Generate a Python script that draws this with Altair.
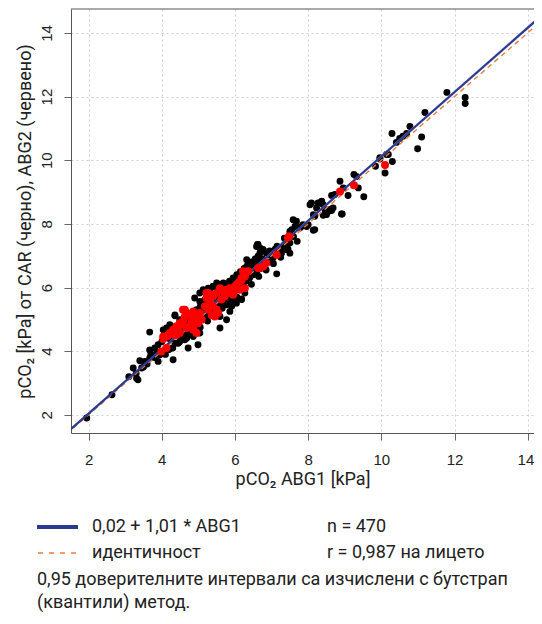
import altair as alt
import pandas as pd

# ---- data ----
car_x = [11.79, 12.29, 12.29, 11.19, 10.78, 10.29, 11.1, 10.99, 10.69, 10.59, 10.5, 10.41, 9.96, 10.19, 10.3, 9.84, 10.1,
         9.25, 9.32, 9.37, 9.52, 8.87, 8.96, 9.09, 8.64, 8.73, 8.93, 8.05, 8.09, 8.27, 8.37, 8.41, 8.46, 8.55, 8.64, 8.5,
         8.41, 8.14, 8.18, 7.86, 7.77, 7.96, 8.14, 7.59, 7.68, 7.64, 7.55, 7.5, 8.0, 8.18, 8.23, 8.32, 8.59, 8.68, 8.91,
         9.96, 10.14, 7.5, 7.36, 7.32, 7.41, 7.27, 6.63, 6.68, 6.77, 6.86, 6.95, 7.04, 7.14, 6.32, 6.41, 6.5, 6.45, 6.36,
         5.4, 5.5, 5.31, 5.95, 6.04, 6.13, 6.27, 1.95, 2.64, 3.22, 3.45, 3.31, 3.35, 3.54, 3.67, 3.9, 3.95, 3.67, 3.81,
         3.86, 4.31, 4.36, 4.72, 4.99, 3.67, 4.36, 4.22, 4.31, 4.49, 4.63, 4.77, 4.04, 4.36, 4.49, 4.9, 5.04, 5.18, 5.59,
         5.86, 5.91, 5.77, 6.18, 6.04, 5.95, 6.32, 6.41, 6.32, 6.5, 6.59, 6.68, 6.59, 5.04, 4.86, 4.68, 5.59, 5.77, 5.04,
         5.13, 5.27, 5.4, 5.54, 5.68, 5.86, 6.0, 4.13, 4.31, 6.18, 6.61, 6.77, 7.5, 7.41, 6.63,
         4.5, 4.55, 4.6, 4.65, 4.7, 4.75, 4.8, 4.85, 4.9, 4.95, 5.0, 5.05, 5.1, 5.15, 5.2, 5.25, 5.3, 5.35, 5.4, 5.45,
         5.5, 5.55, 5.6, 5.65, 5.7, 5.75, 5.8, 5.85, 5.9, 5.95, 6.0, 6.05, 6.1, 6.15, 6.2, 6.25, 6.3, 6.35, 6.4, 6.45,
         6.5, 6.55, 6.6, 6.7, 6.8, 6.9, 7.0, 7.1, 7.2, 3.9, 4.0, 4.1, 4.2, 4.3, 4.4, 3.8, 3.7, 3.6, 3.5, 3.4, 3.3, 3.1,
         4.2, 4.25, 4.45, 4.55, 4.65, 4.75, 4.85, 4.95, 5.05, 5.15, 5.25, 5.35, 5.45, 5.55, 5.65, 5.75, 5.85, 5.95,
         6.05, 6.15, 6.25, 6.35, 6.45, 6.55, 6.65, 6.75, 6.85, 6.95, 7.05, 7.15, 7.25, 7.35, 7.45, 7.6, 7.7, 7.8,
         5.0, 5.2, 5.6, 5.8, 6.0, 6.2, 6.4, 6.6, 4.8, 4.6, 5.3, 5.5, 5.7, 5.9]
car_y = [12.13, 11.97, 11.78, 11.5, 11.06, 10.84, 10.73, 10.36, 10.84, 10.75, 10.68, 10.56, 10.04, 10.18, 9.96, 9.81, 9.6,
         9.55, 9.49, 9.13, 8.85, 9.34, 9.13, 8.89, 8.89, 8.92, 8.31, 8.6, 8.66, 8.66, 8.71, 8.6, 8.45, 8.39, 8.42, 8.29,
         8.27, 8.29, 8.24, 7.97, 7.87, 7.92, 7.8, 8.13, 8.08, 7.92, 7.82, 7.76, 7.97, 7.82, 8.5, 8.66, 8.45, 8.5, 8.31,
         10.08, 10.18, 7.4, 7.35, 7.24, 7.19, 7.08, 7.35, 7.24, 7.19, 7.08, 7.03, 6.93, 6.43, 6.87, 6.77, 6.66, 6.56, 6.66,
         6.03, 6.14, 5.93, 6.14, 6.24, 6.35, 5.83, 1.9, 2.63, 3.47, 3.47, 3.15, 3.1, 3.68, 3.78, 3.68, 3.89, 4.04, 4.1,
         3.94, 3.73, 4.25, 4.1, 4.2, 4.6, 5.11, 4.83, 4.57, 4.3, 4.36, 4.52, 4.67, 5.14, 4.99, 5.67, 5.56, 5.62, 5.09,
         5.25, 5.41, 5.46, 5.62, 5.51, 5.62, 6.3, 6.46, 6.66, 6.77, 6.87, 7.08, 7.29, 4.57, 4.46, 4.41, 4.73, 4.99, 5.83,
         5.93, 5.98, 6.03, 6.09, 6.14, 5.93, 5.98, 4.73, 4.76, 5.64, 7.35, 7.19, 7.08, 7.29, 6.98,
         4.4, 4.7, 4.5, 4.9, 4.6, 5.0, 4.7, 5.2, 4.8, 5.3, 4.9, 5.4, 5.0, 5.5, 5.1, 5.6, 5.2, 5.7, 5.3, 5.8,
         5.4, 5.9, 5.5, 6.0, 5.6, 6.1, 5.7, 6.2, 5.8, 6.3, 5.9, 6.4, 6.0, 6.5, 6.1, 6.6, 6.2, 6.7, 6.3, 6.8,
         6.4, 6.9, 6.5, 6.6, 6.7, 6.8, 7.0, 7.2, 7.1, 4.2, 4.3, 3.9, 4.4, 4.1, 4.6, 3.8, 3.9, 3.6, 3.5, 3.7, 3.3, 3.2,
         4.05, 4.5, 4.25, 4.95, 4.45, 4.85, 4.55, 5.1, 4.75, 5.25, 4.95, 5.45, 5.15, 5.65, 5.35, 5.85, 5.5, 6.05,
         5.7, 6.25, 5.95, 6.45, 6.1, 6.6, 6.35, 6.9, 6.55, 7.15, 6.75, 7.3, 6.95, 7.55, 7.2, 7.6, 7.45, 7.9,
         5.2, 5.35, 5.75, 5.95, 6.2, 6.35, 6.55, 6.75, 4.95, 4.75, 5.5, 5.6, 5.85, 6.0]
abg2_x = [10.1, 9.25, 8.87, 7.48, 7.45, 7.14, 6.86, 6.77, 6.68, 6.22, 6.27, 6.18, 6.13, 6.04, 5.59, 5.68, 5.77, 5.86, 5.95,
          5.22, 5.27, 5.4, 6.63, 6.36, 6.27, 6.18, 6.09, 6.0, 5.91, 5.82, 5.72, 5.63, 6.13, 6.27, 5.95, 5.59, 5.5, 5.4,
          5.27, 5.22, 5.31, 5.4, 5.5, 5.54, 5.45, 5.36, 5.27, 5.18, 5.04, 4.95, 5.09, 4.86, 4.77, 4.68, 4.58, 4.63, 4.81,
          4.99, 4.77, 4.58, 4.49, 4.4, 4.31, 4.22, 4.13, 4.04, 4.36, 4.45, 4.68, 4.86, 3.99, 4.13, 4.04, 4.17, 4.4, 4.49,
          4.54, 4.63, 4.77, 4.9, 4.86, 4.95]
abg2_y = [9.85, 9.21, 9.02, 7.61, 7.56, 7.03, 6.77, 6.66, 6.61, 6.51, 6.4, 6.3, 6.19, 6.09, 5.98, 5.88, 5.93, 5.98, 5.83,
          5.83, 5.72, 5.72, 6.61, 6.51, 6.35, 6.24, 6.14, 6.03, 5.93, 5.83, 5.72, 5.62, 5.93, 5.98, 5.77, 5.93, 5.83, 5.77,
          5.83, 5.67, 5.51, 5.41, 5.3, 5.2, 5.09, 5.14, 5.3, 5.41, 5.2, 5.09, 4.99, 5.25, 5.14, 5.2, 5.3, 5.09, 4.93,
          4.88, 4.78, 4.93, 4.88, 4.78, 4.67, 4.57, 4.46, 4.46, 4.52, 4.62, 4.73, 4.67, 3.99, 4.1, 4.38, 4.48, 4.52, 4.57,
          4.83, 5.3, 5.14, 5.04, 4.78, 4.57]

fit_intercept, fit_slope = 0.02, 1.01
ci_low = [0.0, 1.007]     # intercept, slope of lower CI edge
ci_high = [0.04, 1.013]   # intercept, slope of upper CI edge
line_x = [1.4, 14.6]
ticks = [2, 4, 6, 8, 10, 12, 14]
x_domain = [1.52, 14.17]
y_domain = [1.43, 14.75]

fit_label = "0,02 + 1,01 * ABG1"
id_label = "идентичност"
n_label = "n = 470"
r_label = "r = 0,987 на лицето"
note1 = "0,95 доверителните интервали са изчислени с бутстрап"
note2 = "(квантили) метод."

BLUE = "#2b3990"
ORANGE = "#ee7d3b"
TEXT = "#222222"
TFONT = "Roboto"
FRAME = "#555555"

W, H = 463, 424

xs = alt.Scale(domain=x_domain, nice=False, zero=False)
ys = alt.Scale(domain=y_domain, nice=False, zero=False)

x_axis = alt.Axis(values=ticks, title="pCO₂ ABG1 [kPa]", titleFont=TFONT, titleFontSize=18,
                  titleFontWeight="normal", titleColor=TEXT, titleY=46, titleBaseline="middle",
                  labelFont="Liberation Sans", labelFontSize=15, labelColor=TEXT, labelBaseline="middle",
                  labelAlign={"condition": {"test": "datum.value == 14", "value": "right"}, "value": "center"},
                  labelOffset={"condition": {"test": "datum.value == 14", "value": 6}, "value": 0},
                  labelPadding=19, tickSize=7, tickColor="#666666", domainColor=FRAME,
                  grid=True, gridDash=[2, 3], gridColor="#cfcfcf")
y_axis = alt.Axis(values=ticks, title="pCO₂ [kPa] от CAR (черно), ABG2 (червено)", titleFont=TFONT,
                  titleFontSize=18, titleFontWeight="normal", titleColor=TEXT, titleAngle=-90,
                  titleX=-46, titleY=H / 2, titleAlign="center", titleBaseline="middle",
                  labelFont="Liberation Sans", labelFontSize=15, labelColor=TEXT, labelAngle=-90,
                  labelAlign="center", labelBaseline="middle", labelPadding=18, tickSize=7,
                  tickColor="#666666", domainColor=FRAME,
                  grid=True, gridDash=[2, 3], gridColor="#cfcfcf")

pts_black = pd.DataFrame({"x": car_x, "y": car_y})
pts_red = pd.DataFrame({"x": abg2_x, "y": abg2_y})
lines = pd.DataFrame({"x": line_x})

base_lines = alt.Chart(lines).transform_calculate(
    fit=f"{fit_intercept} + {fit_slope} * datum.x",
    ident="datum.x",
    lo=f"{ci_low[0]} + {ci_low[1]} * datum.x",
    hi=f"{ci_high[0]} + {ci_high[1]} * datum.x",
)

black = alt.Chart(pts_black).mark_circle(size=48, color="black", opacity=1).encode(
    x=alt.X("x:Q", scale=xs, axis=x_axis), y=alt.Y("y:Q", scale=ys, axis=y_axis))
red = alt.Chart(pts_red).mark_circle(size=64, color="#ff0000", opacity=1).encode(
    x=alt.X("x:Q", scale=xs), y=alt.Y("y:Q", scale=ys))
ci = base_lines.mark_area(color="#c9c9e3", opacity=0.8, clip=True).encode(
    x=alt.X("x:Q", scale=xs), y=alt.Y("lo:Q", scale=ys), y2="hi:Q")
ident = base_lines.mark_line(color=ORANGE, strokeDash=[5, 4], strokeWidth=1.4, clip=True).encode(
    x=alt.X("x:Q", scale=xs), y=alt.Y("ident:Q", scale=ys))
fit = base_lines.mark_line(color=BLUE, strokeWidth=2.2, clip=True).encode(
    x=alt.X("x:Q", scale=xs), y=alt.Y("fit:Q", scale=ys))

one = pd.DataFrame({"a": [0]})
# top border of the plot box (the right border lies outside the picture)
top_border = alt.Chart(one).mark_rule(color=FRAME, strokeWidth=1).encode(
    x=alt.value(0), x2=alt.value(W), y=alt.value(0))

# legend / notes below the plot
leg_blue = alt.Chart(one).mark_rule(color=BLUE, strokeWidth=4).encode(
    x=alt.value(-34), x2=alt.value(7), y=alt.value(518))
leg_orange = alt.Chart(one).mark_rule(color=ORANGE, strokeWidth=1.6, strokeDash=[5, 6]).encode(
    x=alt.value(-33), x2=alt.value(8), y=alt.value(544))


def txt(s, x, y):
    return alt.Chart(one).mark_text(align="left", baseline="middle", font=TFONT, fontSize=18,
                                    color=TEXT).encode(x=alt.value(x), y=alt.value(y), text=alt.value(s))


texts = [txt(fit_label, 21, 518), txt(n_label, 256, 518), txt(id_label, 21, 544), txt(r_label, 256, 544),
         txt(note1, -34, 571), txt(note2, -34, 594)]

chart = alt.layer(black, ci, ident, fit, red, top_border, leg_blue, leg_orange, *texts).properties(
    width=W, height=H,
    autosize=alt.AutoSizeParams(type="none"),
    padding={"left": 63, "top": 1, "right": 0, "bottom": 183},
).configure_view(stroke=None)

chart.save("out.html", embed_options={"renderer": "svg", "actions": False})
